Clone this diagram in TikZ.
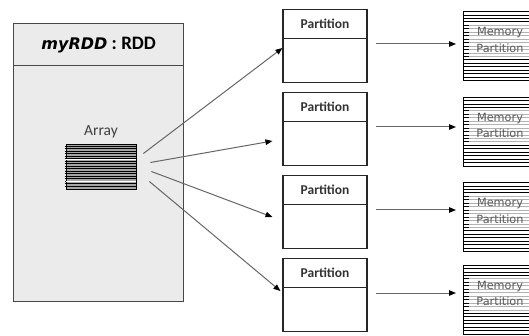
\documentclass[tikz,border=0pt]{standalone}
\usepackage{fontspec}
\setmainfont{Carlito}
\newfontfamily\verdanalike{DejaVu Sans}
\usetikzlibrary{positioning,arrows.meta,calc}

\begin{document}
\begin{tikzpicture}[
  x=1pt, y=-1pt,
  >={Triangle[length=7pt, width=5.5pt, color=black]},
  rddbox/.style={draw=black!72, line width=1.4pt, fill=black!8, inner sep=0pt,
                 minimum width=170pt, minimum height=278pt},
  rddhead/.style={draw=black!72, line width=1.2pt, inner sep=0pt,
                  minimum width=170pt, minimum height=42pt},
  arraybox/.style={draw=black, line width=0.8pt, fill=black!35, inner sep=0pt,
                   minimum width=70pt, minimum height=45pt},
  partbox/.style={draw=black!85, line width=1.1pt, fill=white, inner sep=0pt,
                  minimum width=84pt, minimum height=73pt},
  parthead/.style={draw=black!85, line width=1.1pt, inner sep=0pt,
                   minimum width=84pt, minimum height=29pt,
                   font=\fontsize{13.5}{15}\selectfont\bfseries, text=black!80},
  membox/.style={draw=black, line width=1pt, fill=white, inner sep=0pt,
                 minimum width=80pt, minimum height=69pt},
  memtext/.style={align=center, text=black!65, inner sep=0pt,
                  font=\verdanalike\fontsize{11.3}{16.5}\selectfont},
  stripe/.style={line width=0.7pt, black},
  flow/.style={->, line width=1pt, black!60},
]
\useasboundingbox (0,0) rectangle (529,336);
\clip (0,0) rectangle (529,336);

% ============ RDD object (left) ============
\node[rddbox, anchor=north west] (rdd) at (13,23) {};
\node[rddhead, anchor=north] (rddhead) at (rdd.north)
  {{\verdanalike\fontsize{16}{18}\selectfont\bfseries\itshape myRDD}%
   {\fontsize{19}{21}\selectfont\bfseries\ :\ RDD}};

% ---- array of records ----
\node[arraybox] (arr) at (101,166.5) {};
\foreach \k in {1,...,17}
  \draw[stripe, line width=0.6pt] ($(arr.north west)+(-1,2.5*\k)$) -- ($(arr.north east)+(0,2.5*\k)$);
\foreach \k in {6.5,15}
  \draw[white, line width=1pt] ($(arr.north west)+(0,2.5*\k)$) -- ($(arr.north east)+(0,2.5*\k)$);
\node[above=5pt of arr, inner sep=0pt, font=\fontsize{15.5}{17}\selectfont, text=black!75]
  (arrlbl) {Array};

% free ends of the fan-out arrows
\coordinate (a1) at ($(arr.east)+(7,-13)$);
\coordinate (a2) at ($(arr.east)+(14,-4)$);
\coordinate (a3) at ($(arr.east)+(15,5)$);
\coordinate (a4) at ($(arr.east)+(13,15)$);

% ============ Partitions (middle) ============
\foreach \i/\y in {1/46,2/129,3/212,4/295} {
  \node[partbox] (p\i) at (325,\y) {};
  \node[parthead, anchor=north] (ph\i) at (p\i.north) {Partition};
}

\draw[flow] (a1) -- ($(p1.west)+(0,2)$);
\draw[flow] (a2) -- ($(p2.west)+(-10,12)$);
\draw[flow] (a3) -- ($(p3.west)+(-10,5)$);
\draw[flow] (a4) -- ($(p4.west)+(-2,-4)$);

% ============ Memory partitions (right) ============
\foreach \i/\y in {1/46.5,2/132,3/217.5,4/300} {
  \node[membox, anchor=west] (m\i) at (463,\y) {};
  % stripes: top rows, text rows, bottom rows
  \foreach \k in {1,2,3}
    \draw[stripe] ($(m\i.north west)+(0,3.45*\k)$) -- ($(m\i.north east)+(0,3.45*\k)$);
  \foreach \k in {4,...,13} {
    \draw[stripe, black!30] ($(m\i.north west)+(6,3.45*\k)$) -- ($(m\i.north east)+(0,3.45*\k)$);
    \draw[stripe] ($(m\i.north west)+(0,3.45*\k)$) -- ($(m\i.north west)+(6,3.45*\k)$);
  }
  \foreach \k in {14,...,19}
    \draw[stripe, line width=0.9pt] ($(m\i.north west)+(0,3.45*\k)$) -- ($(m\i.north east)+(0,3.45*\k)$);
  \node[memtext] (mt\i) at ($(m\i.north west)+(37,28.5)$) {Memory\\Partition};
  \draw[flow, shorten <=8pt, shorten >=7pt]
    ([yshift=2pt]p\i.east) -- ([yshift=2pt]p\i.east -| m\i.west);
}

\end{tikzpicture}
\end{document}
